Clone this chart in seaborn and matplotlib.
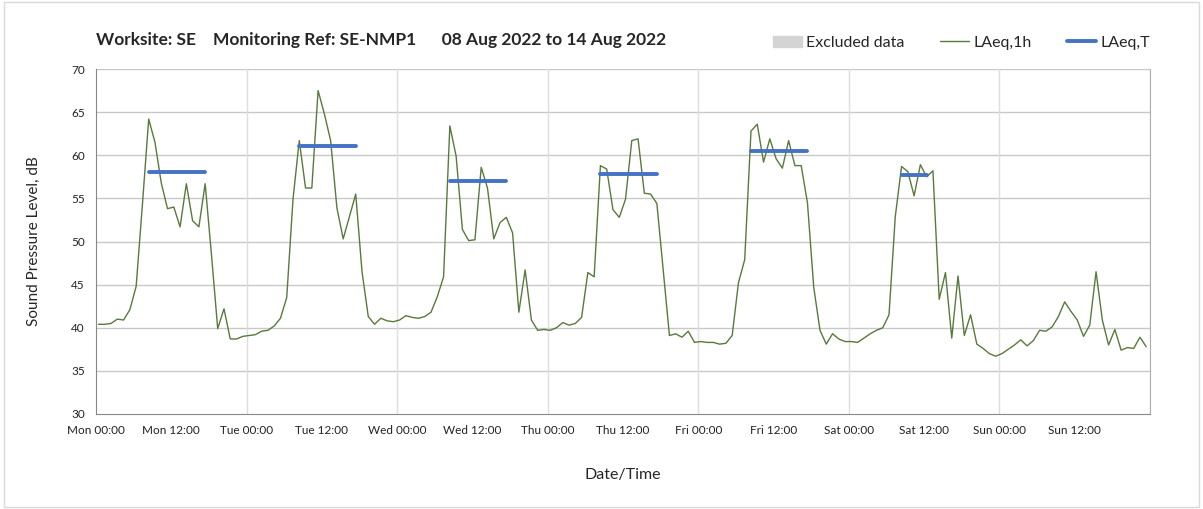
'''
Noise monitoring - hourly LAeq for one week
'''

import matplotlib.pyplot as plt
import matplotlib.patches as mpatches
from matplotlib.lines import Line2D
import numpy as np
import pandas as pd
import seaborn as sns

# hourly LAeq,1h values (dB), 24 per day
mon = [40.4, 40.4, 40.5, 41.0, 40.9, 42.1, 44.8, 54.3, 64.2, 61.5, 56.8, 53.8,
       54.0, 51.7, 56.7, 52.4, 51.7, 56.7, 48.5, 39.9, 42.2, 38.7, 38.7, 39.0]
tue = [39.1, 39.2, 39.6, 39.7, 40.2, 41.1, 43.5, 54.9, 61.7, 56.2, 56.2, 67.5,
       64.8, 61.7, 53.9, 50.3, 52.9, 55.5, 46.5, 41.3, 40.4, 41.1, 40.8, 40.7]
wed = [40.9, 41.4, 41.2, 41.1, 41.3, 41.8, 43.6, 45.9, 63.4, 59.9, 51.4, 50.1,
       50.2, 58.6, 56.2, 50.3, 52.2, 52.8, 51.0, 41.8, 46.7, 40.9, 39.7, 39.8]
thu = [39.7, 40.0, 40.6, 40.3, 40.5, 41.2, 46.4, 45.9, 58.8, 58.4, 53.7, 52.8,
       54.9, 61.7, 61.9, 55.6, 55.5, 54.4, 46.7, 39.1, 39.3, 38.9, 39.6, 38.3]
fri = [38.4, 38.3, 38.3, 38.1, 38.2, 39.1, 45.2, 47.9, 62.8, 63.6, 59.2, 61.9,
       59.6, 58.5, 61.7, 58.8, 58.8, 54.5, 44.7, 39.7, 38.1, 39.3, 38.7, 38.4]
sat = [38.4, 38.3, 38.8, 39.3, 39.7, 40.0, 41.5, 52.9, 58.7, 58.1, 55.3, 58.9,
       57.5, 58.2, 43.3, 46.4, 38.8, 46.0, 39.1, 41.5, 38.1, 37.6, 37.0, 36.7]
sun = [37.0, 37.5, 38.0, 38.6, 37.9, 38.5, 39.7, 39.6, 40.1, 41.3, 43.0, 41.9,
       40.9, 39.0, 40.3, 46.5, 40.9, 38.0, 39.8, 37.4, 37.7, 37.6, 38.9, 37.8]

# LAeq,T per day (Mon..Sat) and the hours it covers
laeq_t = [58.1, 61.1, 57.0, 57.8, 60.5, 57.7]
t_start = [8, 8, 8, 8, 8, 8]
t_end = [17, 17, 17, 17, 17, 12]

days = ['Mon', 'Tue', 'Wed', 'Thu', 'Fri', 'Sat', 'Sun']

# 데이터프레임 구성
laeq_1h = mon + tue + wed + thu + fri + sat + sun
df = pd.DataFrame({'hour': np.arange(len(laeq_1h)) + 0.4, 'LAeq': laeq_1h})

rows = []
for d, (v, s, e) in enumerate(zip(laeq_t, t_start, t_end)):
    for h in range(s, e + 1):
        rows.append({'hour': d * 24 + h + 0.4, 'LAeq': v, 'day': d})
df_t = pd.DataFrame(rows)

sns.set_style('white')
plt.rcParams['font.family'] = ['Lato', 'DejaVu Sans']

fig = plt.figure(figsize=(12.03, 5.09), dpi=100)
ax = fig.add_axes([96 / 1203, 1 - 414 / 509, (1150 - 96) / 1203, (414 - 69) / 509])

green = '#587a3c'
blue = '#4472c4'

sns.lineplot(x='hour', y='LAeq', data=df, color=green, linewidth=1.0, ax=ax)
sns.lineplot(x='hour', y='LAeq', data=df_t, units='day', estimator=None,
             color=blue, linewidth=2.8, ax=ax)

ax.set_xlim(0, 168)
ax.set_ylim(30, 70)
ax.set_yticks(range(30, 71, 5))
ax.set_xticks(range(0, 168, 12))
ax.set_xticklabels([f'{d} {h:02d}:00' for d in days for h in (0, 12)])
ax.tick_params(axis='both', labelsize=8.5, length=4, width=0.8,
               direction='out', pad=4, colors='#888888', labelcolor='#222222')

# 격자선: 가로는 5 dB 간격, 세로는 하루 간격
for y in range(35, 71, 5):
    ax.axhline(y, color='#c8c8c8', linewidth=1.0, zorder=0)
for x in range(24, 169, 24):
    ax.axvline(x, color='#dedede', linewidth=1.0, zorder=0)

ax.spines['top'].set_visible(False)
ax.spines['left'].set_color('#888888')
ax.spines['bottom'].set_color('#888888')
ax.spines['right'].set_color('#b0b0b0')

ax.set_xlabel('Date/Time', fontsize=11.5, labelpad=23)
ax.set_ylabel('Sound Pressure Level, dB', fontsize=11, labelpad=22)

fig.text(96 / 1203, 1 - 40 / 509,
         'Worksite: SE    Monitoring Ref: SE-NMP1      08 Aug 2022 to 14 Aug 2022',
         fontsize=12.5, fontweight='bold', va='center', ha='left')

handles = [mpatches.Patch(color='#d4d4d4', label='Excluded data'),
           Line2D([], [], color=green, linewidth=1.0, label='LAeq,1h'),
           Line2D([], [], color=blue, linewidth=2.8, label='LAeq,T')]
fig.legend(handles=handles, loc='center right', bbox_to_anchor=(1150 / 1203, 1 - 43 / 509),
           ncol=3, frameon=False, fontsize=11.5, handlelength=1.8,
           handletextpad=0.3, columnspacing=2.2, borderaxespad=0, borderpad=0)

# 바깥 테두리
fig.patches.append(mpatches.Rectangle((4 / 1203, 0.003), 1 - 8 / 1203, 0.994,
                                      transform=fig.transFigure, fill=False,
                                      edgecolor='#d9d9d9', linewidth=1.0))

fig.savefig('out.png', dpi=100)
